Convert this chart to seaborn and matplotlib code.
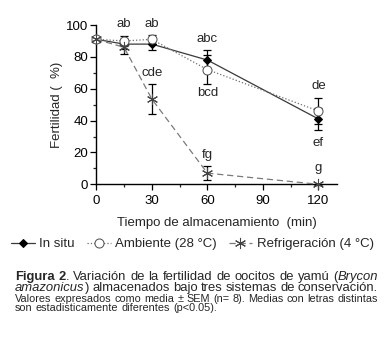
import matplotlib
matplotlib.use("Agg")
import matplotlib.pyplot as plt
import seaborn as sns
import numpy as np
import pandas as pd
from matplotlib.ticker import MultipleLocator

# ---- data ----
tiempo = [0, 15, 30, 60, 120]
in_situ = [91, 88, 88, 78, 41]
in_situ_sem = [1.5, 3, 4, 6, 7]
ambiente = [91, 90, 91, 72, 46]
ambiente_sem = [1.5, 3, 3, 9, 8]
refrig = [91, 86, 53.5, 7, 0]
refrig_sem = [1.5, 4, 9.5, 4.5, 0.5]

series_names = ["In situ", "Ambiente (28 °C)", "Refrigeración (4 °C)"]

letter_x = [15, 30, 30, 60, 60, 60, 120, 120, 120]
letter_y = [100.6, 100.6, 69.7, 91.5, 57.3, 18.4, 61.6, 26.1, 10]
letter_txt = ["ab", "ab", "cde", "abc", "bcd", "fg", "de", "ef", "g"]

xticks = [0, 30, 60, 90, 120]
yticks = [0, 20, 40, 60, 80, 100]

# ---- styling ----
sns.set_style("ticks")
plt.rcParams["font.family"] = ["Liberation Sans", "DejaVu Sans"]

FS = 9.5
W, H = 385, 340
fig = plt.figure(figsize=(W / 100, H / 100), dpi=100)
ax = fig.add_axes([96.3 / W, 1 - 184.3 / H, (337 - 96.3) / W, (184.3 - 25) / H])

df = pd.DataFrame({
    "t": tiempo * 3,
    "v": in_situ + ambiente + refrig,
    "e": in_situ_sem + ambiente_sem + refrig_sem,
    "s": [series_names[0]] * 5 + [series_names[1]] * 5 + [series_names[2]] * 5,
})

styles = {
    series_names[0]: dict(color="#3a3a3a", linestyle="-", marker="D", markersize=4,
                          markerfacecolor="black", markeredgecolor="black", lw=0.9),
    series_names[1]: dict(color="#6e6e6e", linestyle=":", marker="o", markersize=6.5,
                          markerfacecolor="white", markeredgecolor="#555555", lw=0.9),
    series_names[2]: dict(color="#7a7a7a", linestyle=(0, (5, 3)), marker=(6, 2, 0), markersize=8,
                          markerfacecolor="none", markeredgecolor="#444444", lw=0.9),
}

for name in series_names:
    sub = df[df["s"] == name]
    ax.errorbar(sub["t"], sub["v"], yerr=sub["e"], fmt="none", ecolor="black",
                elinewidth=0.9, capsize=3, capthick=0.9, zorder=2)
for name in series_names:
    sub = df[df["s"] == name]
    sns.lineplot(x=sub["t"], y=sub["v"], ax=ax, label=name, zorder=3, **styles[name])

for x, y, t in zip(letter_x, letter_y, letter_txt):
    ax.text(x, y, t, ha="center", va="center", fontsize=FS)

ax.set_xlim(0, 130)
ax.set_ylim(0, 100)
ax.set_xticks(xticks)
ax.set_yticks(yticks)
ax.xaxis.set_minor_locator(MultipleLocator(15))
ax.yaxis.set_minor_locator(MultipleLocator(10))
ax.tick_params(axis="both", which="major", length=4, width=0.9, labelsize=FS, colors="black")
ax.tick_params(axis="x", which="major", pad=4)
ax.tick_params(axis="y", which="major", pad=2)
ax.tick_params(axis="both", which="minor", length=2.5, width=0.9)
for sp in ["top", "right"]:
    ax.spines[sp].set_visible(False)
for sp in ["left", "bottom"]:
    ax.spines[sp].set_linewidth(1.0)
    ax.spines[sp].set_color("black")
for l in ax.lines:
    l.set_clip_on(False)

ax.set_xlabel("Tiempo de almacenamiento  (min)", fontsize=FS, labelpad=7)
ax.set_ylabel("Fertilidad (  %)", fontsize=FS, labelpad=2)

ax.legend(loc="center", bbox_to_anchor=(0.5, 1 - 244 / H), bbox_transform=fig.transFigure,
          ncol=3, frameon=False, fontsize=FS, handlelength=1.8, columnspacing=0.9,
          handletextpad=0.35, borderaxespad=0, borderpad=0)

# ---- caption (justified) ----
renderer = fig.canvas.get_renderer()


def seg_width(text, **kw):
    t = fig.text(0, 0, text, **kw)
    w = t.get_window_extent(renderer=renderer).width
    t.remove()
    return w


def draw_line(words, y_px, fs, x0=15, x1=378, justify=True, space_w=None):
    widths = []
    for word in words:
        widths.append([seg_width(s, fontsize=fs, **st) for s, st in word])
    tot = sum(sum(w) for w in widths)
    if justify and len(words) > 1:
        gap = (x1 - x0 - tot) / (len(words) - 1)
    else:
        gap = space_w
    x = x0
    for word, ws in zip(words, widths):
        for (s, st), w in zip(word, ws):
            fig.text(x / W, 1 - y_px / H, s, fontsize=fs, va="center", ha="left", **st)
            x += w
        x += gap


N = {}
B = {"fontweight": "bold"}
I = {"style": "italic"}


def plain(line):
    return [[(w, N)] for w in line.split()]


line1 = [[("Figura", B)], [("2", B), (".", N)]] + plain("Variación de la fertilidad de oocitos de yamú") + [[("(", N), ("Brycon", I)]]
line2 = [[("amazonicus", I), (")", N)]] + plain("almacenados bajo tres sistemas de conservación.")
line3 = plain("Valores expresados como media ± SEM (n= 8). Medias con letras distintas")
line4 = plain("son estadisticamente diferentes (p<0.05).")

FS_CAP = 9.4
FS_SMALL = 7.8
draw_line(line1, 277, FS_CAP)
draw_line(line2, 288, FS_CAP)
draw_line(line3, 298.5, FS_SMALL)
sw = seg_width("a a", fontsize=FS_SMALL) - seg_width("aa", fontsize=FS_SMALL)
draw_line(line4, 308, FS_SMALL, justify=False, space_w=sw + 0.3)

fig.savefig("out.png", dpi=100)
